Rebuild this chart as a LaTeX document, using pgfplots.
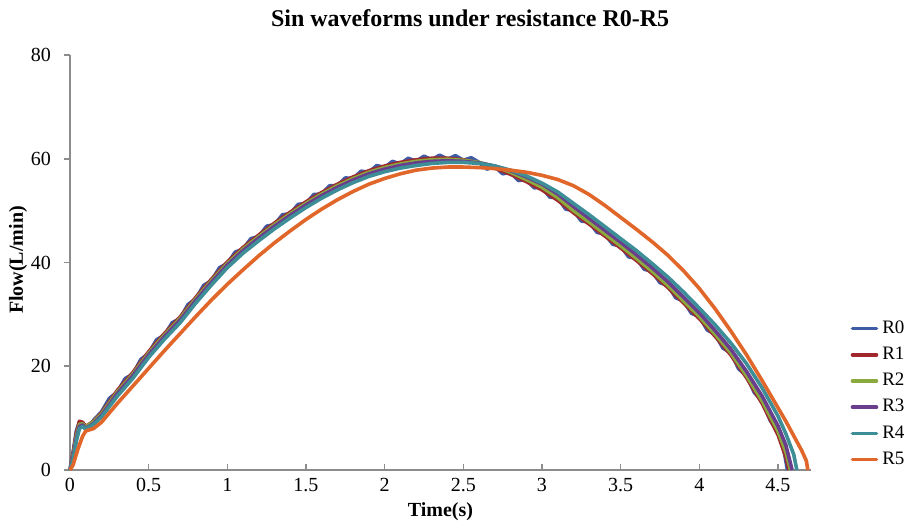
\documentclass[border=0pt]{standalone}
\usepackage{pgfplots}
\pgfplotsset{compat=1.18}
\usepackage{fontspec}
\setmainfont{Liberation Serif}
\definecolor{cR0}{HTML}{3E5BA6}
\definecolor{cR1}{HTML}{A0282D}
\definecolor{cR2}{HTML}{8BAA3E}
\definecolor{cR3}{HTML}{6A3D8D}
\definecolor{cR4}{HTML}{3E8E98}
\definecolor{cR5}{HTML}{E0662A}
\definecolor{axgray}{HTML}{8C8C8C}
\begin{document}
\begin{tikzpicture}
\useasboundingbox (-35pt,-26.5pt) rectangle (424.5pt,235pt);
\begin{axis}[
  scale only axis,
  width=370.5pt, height=207.5pt,
  xmin=0, xmax=4.71, ymin=0, ymax=80,
  xtick={0,0.5,1,1.5,2,2.5,3,3.5,4,4.5},
  ytick={0,20,40,60,80},
  axis lines=left,
  axis line style={-, axgray, line width=0.8pt},
  x axis line style={-}, y axis line style={-},
  xtick align=inside, ytick align=outside,
  major tick length=3pt,
  tick style={axgray, line width=0.8pt},
  every tick label/.append style={font=\fontsize{10}{12}\selectfont, text=black},
  /pgf/number format/assume math mode=true,
  /pgf/number format/fixed,
  /pgf/number format/precision=1,
  xticklabel style={yshift=-3pt, fill=white, inner sep=1pt},
  yticklabel style={xshift=-3pt},
  clip=false,
  title={Sin waveforms under resistance R0-R5},
  title style={font=\bfseries\fontsize{12}{14}\selectfont, at={(axis description cs:0.54,1)}, anchor=center, yshift=12.5pt},
  xlabel={Time(s)},
  xlabel style={font=\bfseries\fontsize{10}{12}\selectfont, at={(axis description cs:0.5,0)}, anchor=center, yshift=-21pt},
  legend style={draw=none, fill=none, at={(axis description cs:1.053,0.37)}, anchor=north west,
    font=\fontsize{9.5}{11}\selectfont, row sep=1.3pt, inner sep=0pt},
  legend cell align=left,
  legend image code/.code={\draw[#1, line width=1.8pt, line cap=round] (0pt,0pt) -- (12pt,0pt);},
  every axis plot/.append style={line width=1.8pt, line join=round, no markers},
]
\addplot[cR0] table {
0 0
0.02 3.5
0.04 7.5
0.06 9.3
0.08 9.0
0.1 7.8
0.12 8.0
0.15 9.6
0.2 11.2
0.25 13.8
0.3 15
0.35 17.6
0.4 18.5
0.45 21.3
0.5 22.5
0.55 25.1
0.6 26
0.65 28.4
0.7 29.2
0.75 31.9
0.8 33
0.85 35.6
0.9 36.5
0.95 39.0
1.0 39.8
1.05 42.0
1.1 42.6
1.15 44.6
1.2 45.0
1.25 47.0
1.3 47.3
1.35 49.2
1.4 49.4
1.45 51.2
1.5 51.4
1.55 53.1
1.6 53.2
1.65 54.8
1.7 54.8
1.75 56.3
1.8 56.2
1.85 57.6
1.9 57.4
1.95 58.7
2.0 58.3
2.05 59.5
2.1 59.0
2.15 60.1
2.2 59.5
2.25 60.5
2.3 59.8
2.35 60.7
2.4 59.9
2.45 60.6
2.5 59.7
2.55 60.2
2.6 59.3
2.65 58.0
2.7 58.5
2.75 57.1
2.8 57.4
2.85 55.8
2.9 56.0
2.95 54.4
3.0 54.5
3.05 52.6
3.1 52.5
3.15 50.3
3.2 50.0
3.25 48.0
3.3 47.8
3.35 45.8
3.4 45.5
3.45 43.5
3.5 43.2
3.55 41.1
3.6 40.8
3.65 38.7
3.7 38.3
3.75 36.1
3.8 35.6
3.85 33.2
3.9 32.6
3.95 30.2
4.0 29.6
4.05 27.0
4.1 26.2
4.15 23.5
4.2 22.6
4.25 19.5
4.3 18.2
4.35 14.9
4.4 13.3
4.45 9.6
4.5 7.3
4.54 3.5
4.56 0
};
\addlegendentry{R0}
\addplot[cR1] table {
0 0
0.02 3.2
0.04 7.0
0.06 9.4
0.08 9.2
0.1 8.4
0.15 9.4
0.2 11.0
0.3 15.3
0.4 18.8
0.5 22.8
0.6 26.3
0.7 29.5
0.8 33.3
0.9 36.8
1.0 40.1
1.1 42.9
1.2 45.3
1.3 47.6
1.4 49.7
1.5 51.7
1.6 53.5
1.7 55.1
1.8 56.5
1.9 57.7
2.0 58.6
2.1 59.3
2.2 59.8
2.3 60.1
2.4 60.1
2.5 59.8
2.6 59.2
2.7 58.2
2.8 57.0
2.9 55.6
3.0 54.0
3.1 52.0
3.2 49.6
3.3 47.4
3.4 45.1
3.5 42.8
3.6 40.4
3.7 37.9
3.8 35.2
3.9 32.2
4.0 29.2
4.1 25.8
4.2 22.2
4.3 17.8
4.4 12.8
4.5 6.8
4.55 2.5
4.57 0
};
\addlegendentry{R1}
\addplot[cR2] table {
0 0
0.02 2.8
0.04 6.5
0.06 8.8
0.08 8.9
0.1 8.3
0.15 9.3
0.2 10.8
0.3 15
0.4 18.5
0.5 22.5
0.6 26
0.7 29.2
0.8 33
0.9 36.5
1.0 39.8
1.1 42.6
1.2 45.0
1.3 47.3
1.4 49.4
1.5 51.4
1.6 53.2
1.7 54.8
1.8 56.2
1.9 57.4
2.0 58.3
2.1 59.0
2.2 59.5
2.3 59.8
2.4 59.9
2.5 59.7
2.6 59.3
2.7 58.5
2.8 57.4
2.9 56.0
3.0 54.5
3.1 52.5
3.2 50.0
3.3 47.8
3.4 45.5
3.5 43.2
3.6 40.8
3.7 38.3
3.8 35.6
3.9 32.6
4.0 29.6
4.1 26.2
4.2 22.6
4.3 18.2
4.4 13.3
4.5 7.5
4.55 3.5
4.58 0
};
\addlegendentry{R2}
\addplot[cR3] table {
0 0
0.02 2.5
0.04 6.0
0.06 8.4
0.08 8.7
0.1 8.0
0.15 9.0
0.2 10.5
0.3 14.7
0.4 18.2
0.5 22.2
0.6 25.7
0.7 28.9
0.8 32.7
0.9 36.2
1.0 39.5
1.1 42.3
1.2 44.7
1.3 47.0
1.4 49.1
1.5 51.1
1.6 52.9
1.7 54.5
1.8 55.9
1.9 57.1
2.0 58.0
2.1 58.7
2.2 59.2
2.3 59.5
2.4 59.6
2.5 59.5
2.6 59.2
2.7 58.6
2.8 57.7
2.9 56.5
3.0 55.1
3.1 53.2
3.2 50.8
3.3 48.5
3.4 46.2
3.5 43.9
3.6 41.5
3.7 39.0
3.8 36.3
3.9 33.3
4.0 30.3
4.1 26.9
4.2 23.3
4.3 19.0
4.4 14.2
4.5 8.5
4.55 4.8
4.59 0
};
\addlegendentry{R3}
\addplot[cR4] table {
0 0
0.02 2.0
0.04 5.5
0.06 8.0
0.08 8.4
0.1 7.9
0.15 8.8
0.2 10.2
0.3 14.2
0.4 17.7
0.5 21.7
0.6 25.2
0.7 28.4
0.8 32.2
0.9 35.7
1.0 39.0
1.1 41.8
1.2 44.2
1.3 46.5
1.4 48.6
1.5 50.6
1.6 52.4
1.7 54.0
1.8 55.4
1.9 56.6
2.0 57.5
2.1 58.2
2.2 58.7
2.3 59.1
2.4 59.3
2.5 59.3
2.6 59.1
2.7 58.6
2.8 57.8
2.9 56.7
3.0 55.3
3.1 53.6
3.2 51.4
3.3 49.2
3.4 46.9
3.5 44.6
3.6 42.3
3.7 39.8
3.8 37.2
3.9 34.3
4.0 31.2
4.1 28.0
4.2 24.5
4.3 20.5
4.4 15.8
4.5 10.4
4.55 7.0
4.6 3.0
4.62 0
};
\addlegendentry{R4}
\addplot[cR5] table {
0 0
0.02 1.0
0.05 4.0
0.08 6.5
0.1 7.5
0.15 8.0
0.2 9.2
0.3 12.8
0.4 16.2
0.5 19.6
0.6 23.0
0.7 26.3
0.8 29.6
0.9 32.8
1.0 35.8
1.1 38.6
1.2 41.3
1.3 43.8
1.4 46.1
1.5 48.3
1.6 50.3
1.7 52.1
1.8 53.7
1.9 55.1
2.0 56.2
2.1 57.1
2.2 57.8
2.3 58.2
2.4 58.4
2.5 58.4
2.6 58.3
2.7 58.1
2.8 57.8
2.9 57.4
3.0 56.8
3.1 56.0
3.2 54.8
3.3 53.1
3.4 51.0
3.5 48.7
3.6 46.4
3.7 44.0
3.8 41.4
3.9 38.4
4.0 35.0
4.1 31.1
4.2 26.8
4.3 22.2
4.4 17.2
4.5 12.0
4.55 9.4
4.6 6.6
4.65 3.8
4.68 1.8
4.69 0
};
\addlegendentry{R5}
\node[font=\bfseries\fontsize{10}{12}\selectfont, rotate=90, anchor=center]
  at ([xshift=-26pt]axis description cs:0,0.506) {Flow(L/min)};
\end{axis}
\end{tikzpicture}
\end{document}
